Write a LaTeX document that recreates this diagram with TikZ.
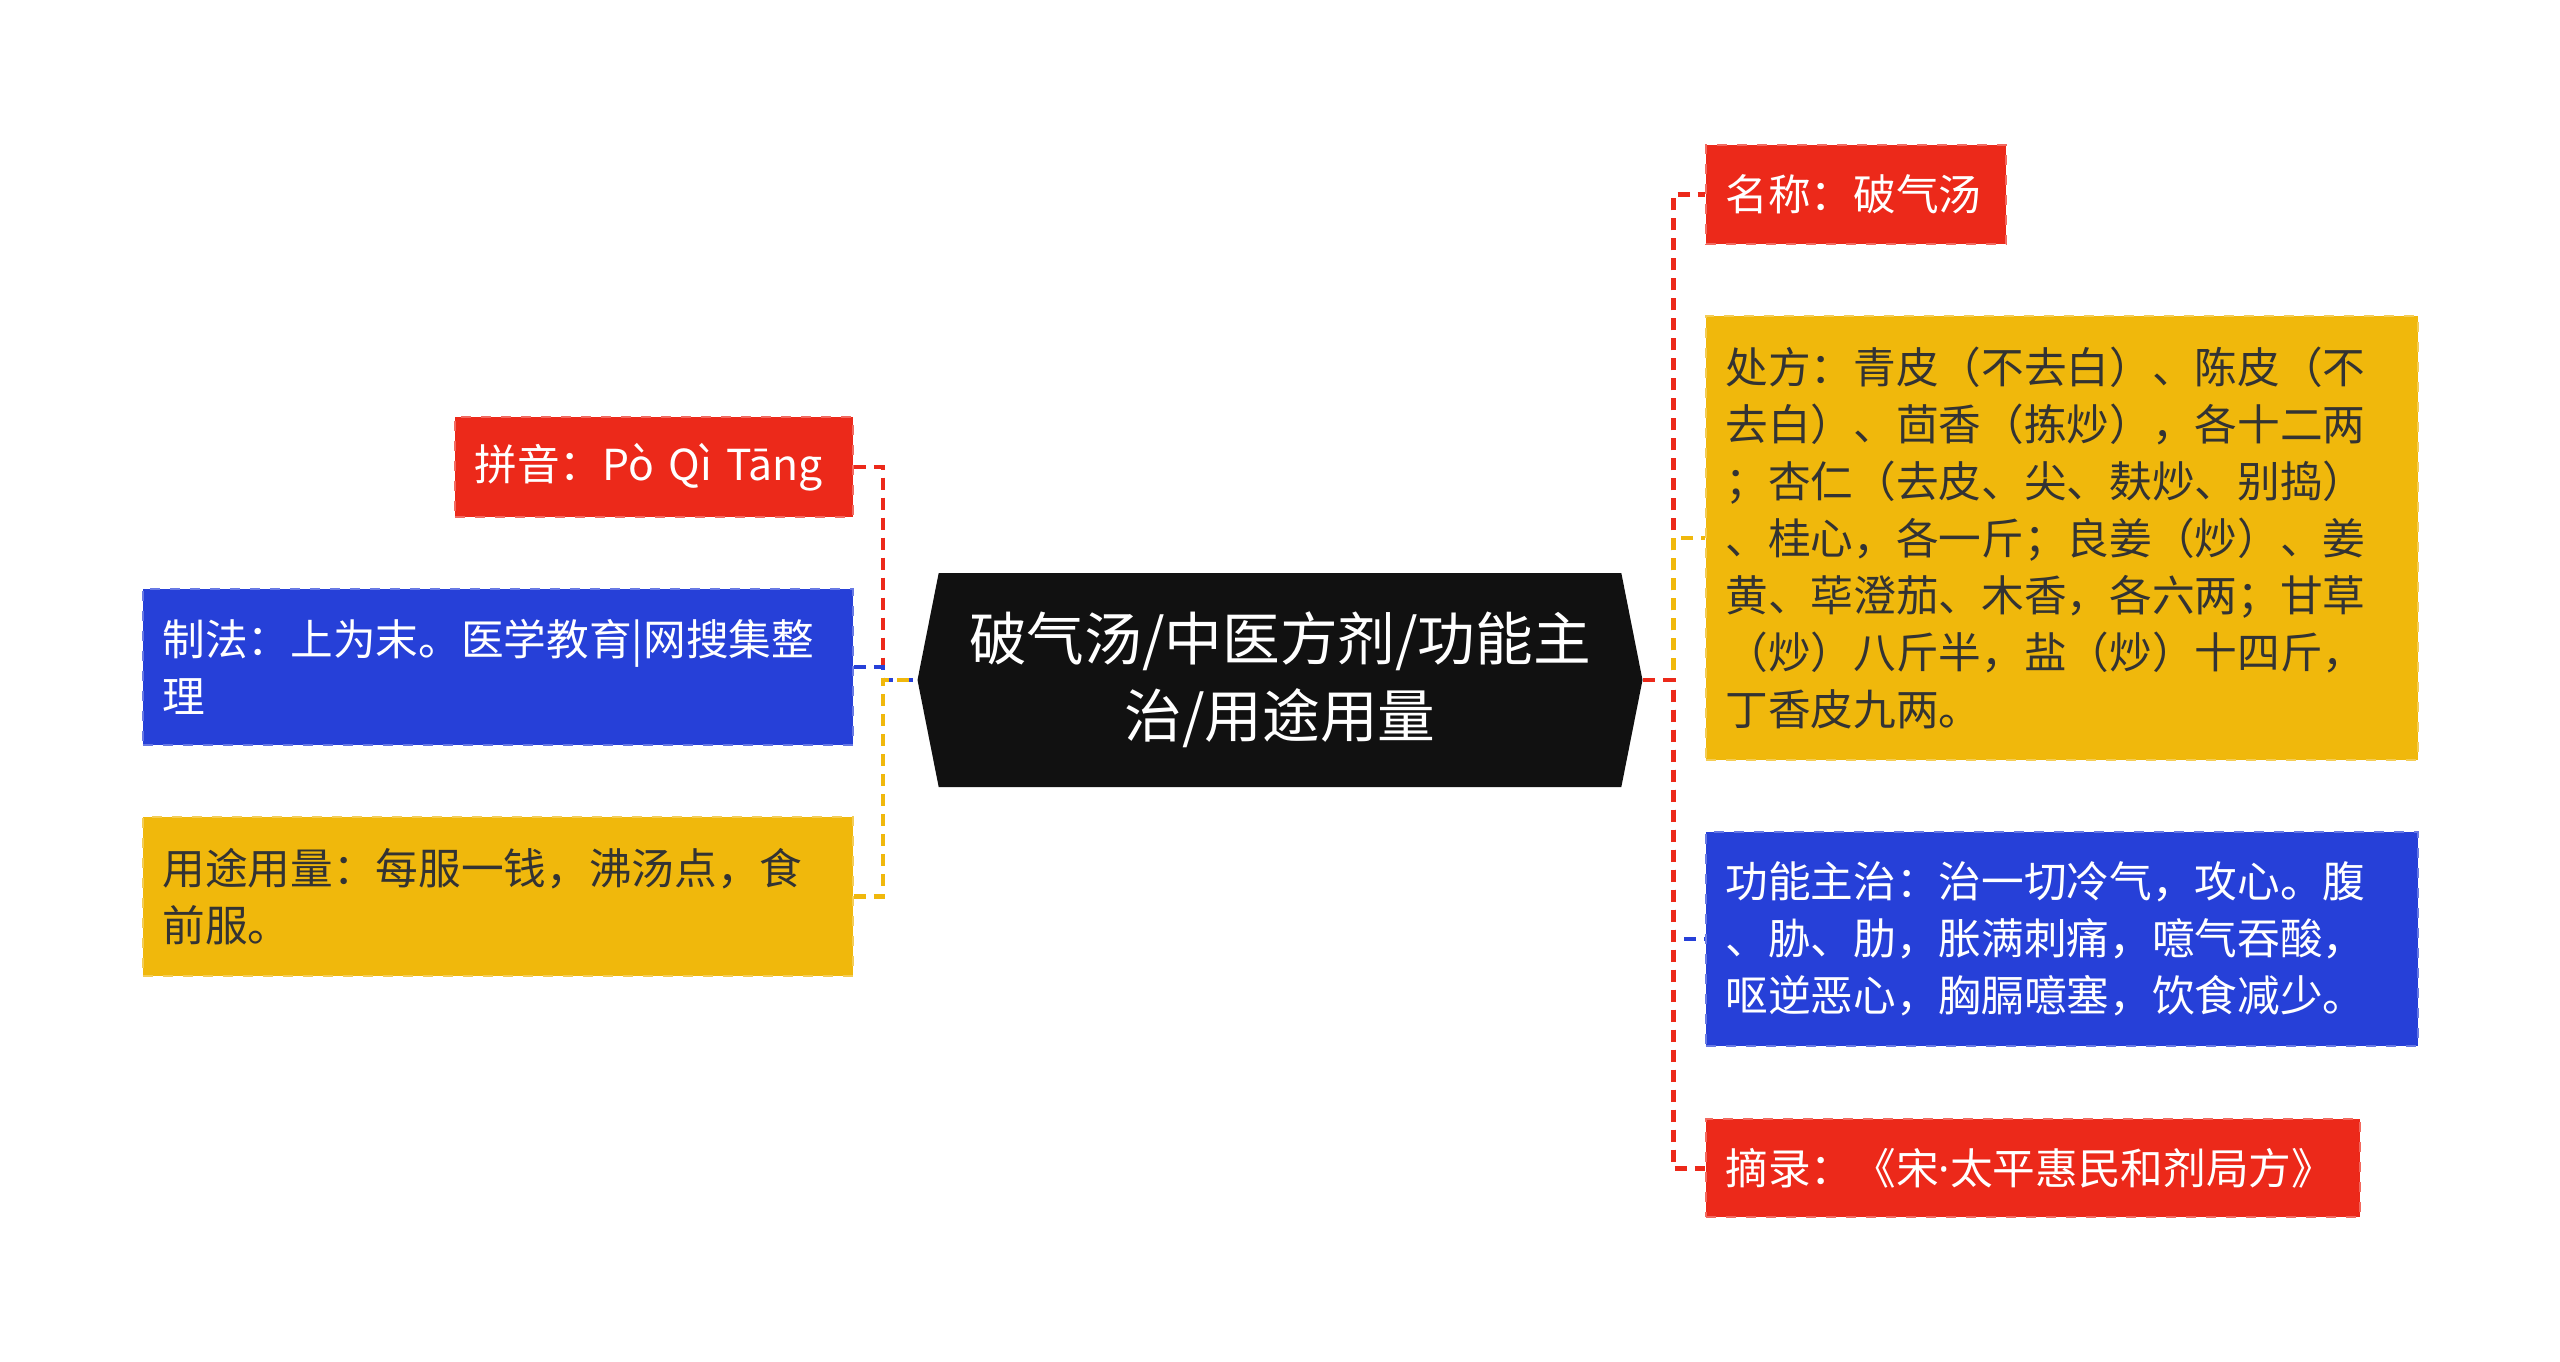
\documentclass[tikz,border=0pt]{standalone}
\usepackage{fontspec}
\usepackage{tikz}
\usetikzlibrary{shapes.symbols}
\newfontfamily\cjk{Noto Sans CJK SC}
\newfontfamily\latin{Noto Sans}
\definecolor{myred}{RGB}{236,41,26}
\definecolor{myblue}{RGB}{38,64,216}
\definecolor{myyellow}{RGB}{240,184,12}
\definecolor{mydark}{RGB}{17,17,17}
\definecolor{mytext}{RGB}{51,51,51}
\tikzset{
  leaf/.style={draw, dashed, line width=0.6pt, align=left, inner xsep=6pt, inner ysep=0pt, font=\cjk\fontsize{12.8}{17.1}\selectfont},
  redleaf/.style={leaf, fill=myred, draw=myred!70!white, text=white},
  blueleaf/.style={leaf, fill=myblue, draw=myblue!70!white, text=white},
  yellowleaf/.style={leaf, fill=myyellow, draw=myyellow!70!white, text=mytext},
  root/.style={signal, signal to=west and east, signal pointer angle=157.6, fill=mydark, text=white, align=center, inner sep=0pt, minimum width=217.5pt, minimum height=64.2pt, font=\cjk\fontsize{17.3}{23}\selectfont},
  link/.style={line width=1.3pt, dash pattern=on 3.6pt off 2.4pt}
}

\begin{document}
\begin{tikzpicture}[x=0.3pt, y=-0.3pt]
\fill[white] (0,0) rectangle (2560,1361);
\useasboundingbox (0,0) rectangle (2560,1361);

% centre
\node[root] (main) at (1280,680) {破气汤/中医方剂/功能主\\治/用途用量};

% left side
\node[redleaf, anchor=north east, text width=107.5pt, minimum height=29.9pt] (pinyin) at (853.9,416.3) {拼音：Pò Qì Tāng};
\node[blueleaf, anchor=north east, text width=201.1pt, minimum height=47pt] (zhifa) at (853.9,587.8) {制法：上为末。医学教育|网搜集整\\理};
\node[yellowleaf, anchor=north east, text width=201.1pt, minimum height=47.5pt] (yongtu) at (853.9,816.3) {用途用量：每服一钱，沸汤点，食\\前服。};

% right side
\node[redleaf, anchor=north west, text width=78.2pt, minimum height=29.9pt] (mingcheng) at (1704.5,143.7) {名称：破气汤};
\node[yellowleaf, anchor=north west, text width=201.6pt, minimum height=133.2pt] (chufang) at (1704.5,315.1) {处方：青皮（不去白）、陈皮（不\\去白）、茴香（拣炒），各十二两\\；杏仁（去皮、尖、麸炒、别捣）\\、桂心，各一斤；良姜（炒）、姜\\黄、荜澄茄、木香，各六两；甘草\\（炒）八斤半，盐（炒）十四斤，\\丁香皮九两。};
\node[blueleaf, anchor=north west, text width=201.6pt, minimum height=64.2pt] (gongneng) at (1704.5,831) {功能主治：治一切冷气，攻心。腹\\、胁、肋，胀满刺痛，噫气吞酸，\\呕逆恶心，胸膈噫塞，饮食减少。};
\node[redleaf, anchor=north west, text width=184.4pt, minimum height=29.4pt] (zhailu) at (1704.5,1118.4) {摘录：《宋{\latin ·}太平惠民和剂局方》};

% connectors
\coordinate (lj) at (883.3,680);
\coordinate (rj) at (1673.5,680);
\draw[link, myred] (pinyin.east) -| (lj) -- (main.west);
\draw[link, myblue] (zhifa.east) -| (lj) -- (main.west);
\draw[link, myyellow] (yongtu.east) -| (lj) -- (main.west);
\draw[link, myred] (main.east) -- (rj) |- (mingcheng.west);
\draw[link, myyellow] (main.east) -- (rj) |- (chufang.west);
\draw[link, myblue] (main.east) -- (rj) |- (gongneng.west);
\draw[link, myred] (main.east) -- (rj) |- (zhailu.west);
\end{tikzpicture}
\end{document}
